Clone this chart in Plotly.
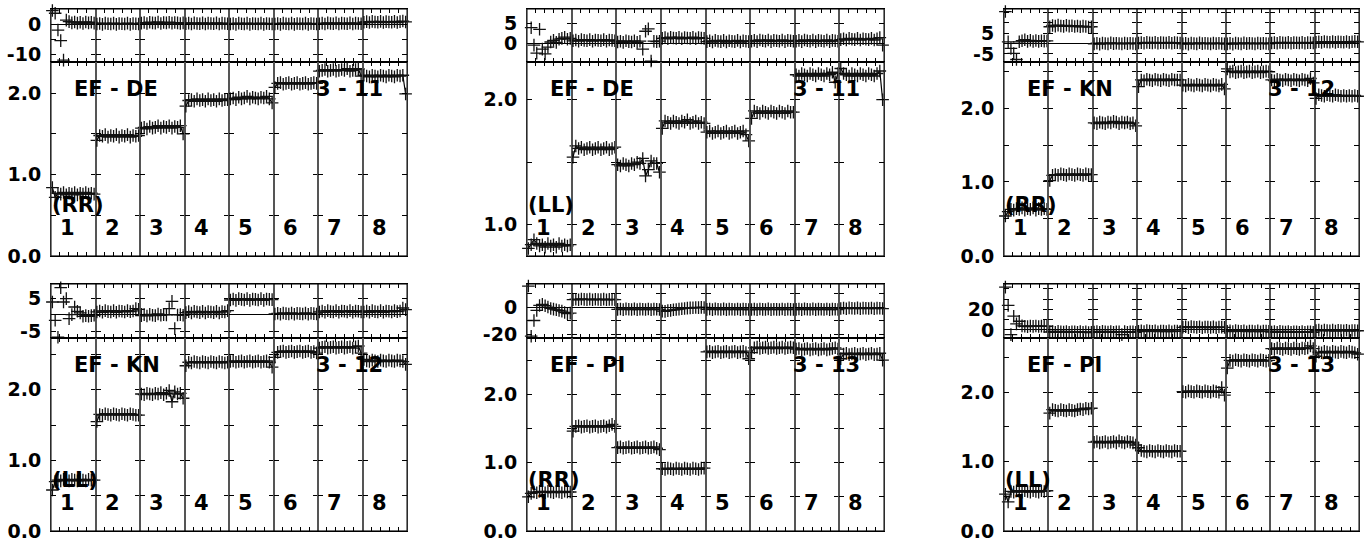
import plotly.graph_objects as go

W, H = 1367, 545          # reference picture size (pixel geometry below is in these units)
FIG_H = 558               # page height used when rendering (the capture is rescaled to 545)

baselines = ["EF - DE", "EF - DE", "EF - KN", "EF - KN", "EF - PI", "EF - PI"]
pols = ["(RR)", "(LL)", "(RR)", "(LL)", "(RR)", "(LL)"]
triangles = ["3 - 11", "3 - 11", "3 - 12", "3 - 12", "3 - 13", "3 - 13"]
if_labels = ["1", "2", "3", "4", "5", "6", "7", "8"]

# ---------------- amplitudes (per IF, per channel) ----------------
amp_1 = [
    [0.84, 0.72, 0.77, 0.76, 0.78, 0.75, 0.77, 0.76, 0.78, 0.75, 0.77, 0.76, 0.78, 0.76, 0.77, 0.76],
    [1.42, 1.48, 1.47, 1.49, 1.46, 1.48, 1.47, 1.49, 1.46, 1.48, 1.47, 1.49, 1.46, 1.48, 1.47, 1.48],
    [1.57, 1.58, 1.56, 1.59, 1.57, 1.58, 1.60, 1.57, 1.59, 1.58, 1.60, 1.57, 1.59, 1.58, 1.60, 1.50],
    [1.84, 1.91, 1.92, 1.90, 1.93, 1.91, 1.92, 1.90, 1.93, 1.91, 1.92, 1.90, 1.93, 1.91, 1.92, 1.92],
    [1.93, 1.94, 1.92, 1.95, 1.93, 1.94, 1.96, 1.93, 1.95, 1.94, 1.93, 1.95, 1.94, 1.96, 1.93, 1.88],
    [2.07, 2.12, 2.13, 2.11, 2.12, 2.13, 2.11, 2.12, 2.13, 2.11, 2.12, 2.13, 2.11, 2.12, 2.13, 2.12],
    [2.27, 2.28, 2.29, 2.27, 2.28, 2.29, 2.27, 2.28, 2.29, 2.28, 2.30, 2.27, 2.28, 2.29, 2.30, 2.21],
    [2.22, 2.21, 2.20, 2.22, 2.21, 2.20, 2.22, 2.21, 2.20, 2.22, 2.21, 2.20, 2.22, 2.21, 2.22, 1.99],
]
amp_2 = [
    [0.81, 0.84, 0.88, 0.85, 0.83, 0.84, 0.82, 0.85, 0.83, 0.84, 0.82, 0.85, 0.83, 0.84, 0.83, 0.84],
    [1.54, 1.63, 1.61, 1.62, 1.60, 1.61, 1.62, 1.60, 1.61, 1.62, 1.60, 1.61, 1.62, 1.60, 1.61, 1.62],
    [1.48, 1.47, 1.49, 1.48, 1.47, 1.49, 1.48, 1.50, 1.49, 1.53, 1.39, 1.44, 1.51, 1.49, 1.49, 1.42],
    [1.77, 1.83, 1.82, 1.81, 1.83, 1.82, 1.81, 1.83, 1.82, 1.84, 1.81, 1.82, 1.83, 1.81, 1.82, 1.81],
    [1.74, 1.75, 1.73, 1.74, 1.75, 1.73, 1.74, 1.75, 1.73, 1.74, 1.75, 1.73, 1.74, 1.75, 1.72, 1.67],
    [1.85, 1.91, 1.90, 1.89, 1.91, 1.90, 1.89, 1.91, 1.90, 1.89, 1.91, 1.90, 1.89, 1.91, 1.90, 1.90],
    [2.20, 2.19, 2.21, 2.20, 2.19, 2.21, 2.20, 2.19, 2.21, 2.20, 2.19, 2.21, 2.20, 2.22, 2.14, 2.21],
    [2.25, 2.21, 2.20, 2.19, 2.21, 2.20, 2.19, 2.21, 2.20, 2.19, 2.21, 2.20, 2.19, 2.21, 2.23, 2.00],
]
amp_3 = [
    [0.54, 0.60, 0.63, 0.62, 0.64, 0.63, 0.65, 0.62, 0.64, 0.63, 0.65, 0.62, 0.64, 0.63, 0.64, 0.63],
    [1.02, 1.09, 1.10, 1.09, 1.11, 1.10, 1.09, 1.11, 1.10, 1.09, 1.11, 1.10, 1.09, 1.11, 1.10, 1.10],
    [1.80, 1.79, 1.81, 1.80, 1.79, 1.81, 1.80, 1.82, 1.81, 1.79, 1.81, 1.80, 1.81, 1.79, 1.80, 1.76],
    [2.29, 2.38, 2.37, 2.39, 2.38, 2.37, 2.39, 2.38, 2.37, 2.39, 2.38, 2.37, 2.39, 2.38, 2.38, 2.38],
    [2.31, 2.30, 2.32, 2.31, 2.30, 2.32, 2.31, 2.30, 2.32, 2.31, 2.30, 2.32, 2.31, 2.30, 2.32, 2.26],
    [2.53, 2.49, 2.50, 2.48, 2.49, 2.50, 2.48, 2.49, 2.50, 2.48, 2.49, 2.50, 2.48, 2.49, 2.50, 2.49],
    [2.38, 2.37, 2.39, 2.38, 2.37, 2.39, 2.38, 2.37, 2.39, 2.38, 2.37, 2.39, 2.38, 2.37, 2.40, 2.34],
    [2.13, 2.18, 2.17, 2.16, 2.18, 2.17, 2.16, 2.18, 2.17, 2.16, 2.17, 2.16, 2.17, 2.16, 2.17, 2.16],
]
amp_4 = [
    [0.58, 0.70, 0.72, 0.71, 0.73, 0.72, 0.71, 0.73, 0.72, 0.71, 0.73, 0.72, 0.71, 0.73, 0.72, 0.72],
    [1.55, 1.65, 1.64, 1.66, 1.65, 1.64, 1.66, 1.65, 1.64, 1.66, 1.65, 1.64, 1.66, 1.65, 1.64, 1.64],
    [1.94, 1.93, 1.95, 1.94, 1.93, 1.95, 1.94, 1.96, 1.93, 1.95, 1.99, 1.83, 1.97, 1.94, 1.95, 1.88],
    [2.34, 2.39, 2.38, 2.40, 2.39, 2.38, 2.40, 2.39, 2.38, 2.40, 2.39, 2.38, 2.40, 2.39, 2.38, 2.39],
    [2.40, 2.41, 2.39, 2.40, 2.41, 2.39, 2.40, 2.41, 2.39, 2.40, 2.41, 2.39, 2.40, 2.41, 2.39, 2.32],
    [2.46, 2.53, 2.54, 2.55, 2.53, 2.54, 2.55, 2.53, 2.54, 2.55, 2.53, 2.54, 2.55, 2.53, 2.54, 2.52],
    [2.59, 2.60, 2.61, 2.59, 2.60, 2.61, 2.59, 2.60, 2.61, 2.59, 2.60, 2.61, 2.59, 2.61, 2.62, 2.52],
    [2.43, 2.41, 2.40, 2.42, 2.41, 2.40, 2.42, 2.41, 2.40, 2.42, 2.41, 2.40, 2.42, 2.41, 2.40, 2.36],
]
amp_5 = [
    [0.50, 0.55, 0.57, 0.56, 0.58, 0.57, 0.56, 0.58, 0.57, 0.56, 0.58, 0.57, 0.56, 0.58, 0.57, 0.57],
    [1.46, 1.53, 1.54, 1.52, 1.53, 1.54, 1.52, 1.53, 1.54, 1.52, 1.53, 1.54, 1.52, 1.54, 1.56, 1.53],
    [1.22, 1.23, 1.21, 1.22, 1.23, 1.21, 1.22, 1.23, 1.21, 1.22, 1.23, 1.21, 1.22, 1.23, 1.21, 1.19],
    [0.91, 0.90, 0.92, 0.91, 0.90, 0.92, 0.91, 0.90, 0.92, 0.91, 0.90, 0.92, 0.91, 0.90, 0.92, 0.92],
    [2.62, 2.63, 2.61, 2.62, 2.63, 2.61, 2.62, 2.63, 2.61, 2.62, 2.63, 2.61, 2.62, 2.63, 2.61, 2.52],
    [2.61, 2.68, 2.69, 2.67, 2.68, 2.69, 2.67, 2.68, 2.69, 2.67, 2.68, 2.69, 2.67, 2.68, 2.69, 2.68],
    [2.66, 2.67, 2.65, 2.66, 2.67, 2.65, 2.66, 2.67, 2.65, 2.66, 2.67, 2.65, 2.66, 2.67, 2.68, 2.66],
    [2.52, 2.59, 2.60, 2.58, 2.59, 2.60, 2.58, 2.59, 2.60, 2.58, 2.59, 2.60, 2.58, 2.59, 2.60, 2.50],
]
amp_6 = [
    [0.53, 0.42, 0.57, 0.56, 0.58, 0.57, 0.56, 0.58, 0.57, 0.56, 0.58, 0.57, 0.56, 0.58, 0.57, 0.58],
    [1.70, 1.75, 1.74, 1.73, 1.75, 1.74, 1.73, 1.75, 1.74, 1.73, 1.75, 1.76, 1.75, 1.77, 1.76, 1.77],
    [1.28, 1.29, 1.27, 1.28, 1.29, 1.27, 1.28, 1.29, 1.27, 1.30, 1.28, 1.27, 1.29, 1.28, 1.27, 1.24],
    [1.20, 1.16, 1.15, 1.14, 1.16, 1.15, 1.14, 1.16, 1.15, 1.14, 1.16, 1.15, 1.14, 1.16, 1.15, 1.15],
    [2.01, 2.00, 2.02, 2.01, 2.00, 2.02, 2.01, 2.00, 2.02, 2.01, 2.00, 2.02, 2.01, 2.00, 2.07, 1.96],
    [2.35, 2.46, 2.45, 2.47, 2.46, 2.45, 2.47, 2.46, 2.45, 2.47, 2.46, 2.45, 2.47, 2.46, 2.45, 2.46],
    [2.63, 2.62, 2.64, 2.63, 2.62, 2.64, 2.63, 2.62, 2.64, 2.63, 2.62, 2.64, 2.63, 2.64, 2.67, 2.63],
    [2.52, 2.58, 2.57, 2.59, 2.58, 2.57, 2.59, 2.58, 2.57, 2.59, 2.58, 2.57, 2.59, 2.58, 2.57, 2.55],
]

# ---------------- phases (degrees, per IF, per channel) ----------------
phs_1 = [
    [4.7, 3.8, -1.8, -5.3, -11.8, 1.5, 1.0, 0.6, 0.9, 0.5, 0.8, 0.4, 0.9, 0.6, 0.8, 0.5],
    [0.2, 0.4, 0.1, 0.5, 0.3, 0.2, 0.5, 0.1, 0.4, 0.3, 0.2, 0.5, 0.1, 0.4, 0.3, 0.2],
    [0.5, 0.7, 0.4, 0.8, 0.6, 0.5, 0.9, 0.4, 0.7, 0.6, 0.8, 0.5, 0.7, 0.6, 0.4, 0.6],
    [0.3, 0.5, 0.2, 0.6, 0.4, 0.3, 0.6, 0.2, 0.5, 0.4, 0.3, 0.6, 0.2, 0.5, 0.4, 0.3],
    [0.2, 0.4, 0.1, 0.5, 0.3, 0.2, 0.5, 0.1, 0.4, 0.3, 0.2, 0.5, 0.1, 0.4, 0.3, 0.2],
    [0.2, 0.4, 0.1, 0.5, 0.3, 0.2, 0.5, 0.1, 0.4, 0.3, 0.2, 0.5, 0.1, 0.4, 0.3, 0.2],
    [0.3, 0.5, 0.2, 0.6, 0.4, 0.3, 0.6, 0.2, 0.5, 0.4, 0.3, 0.6, 0.2, 0.5, 0.4, 0.3],
    [0.8, 1.0, 0.7, 1.1, 0.9, 0.8, 1.1, 0.7, 1.0, 0.9, 0.8, 1.1, 0.7, 1.0, 1.2, 0.9],
]
phs_2 = [
    [8.7, 3.9, -0.5, -2.5, 3.5, -1.5, -2.7, -1.0, 0.3, 0.7, 0.2, 1.0, 1.2, 1.5, 1.0, 1.2],
    [0.6, 0.8, 0.5, 0.9, 0.7, 0.6, 0.9, 0.5, 0.8, 0.7, 0.6, 0.9, 0.5, 0.8, 0.7, 0.6],
    [0.3, 0.5, 0.2, 0.6, 0.4, 0.3, 0.6, 0.2, 0.5, -1.5, 3.0, 3.6, -4.5, 0.5, 0.4, 0.5],
    [1.2, 1.4, 1.1, 1.5, 1.3, 1.2, 1.5, 1.1, 1.4, 1.3, 1.2, 1.5, 1.1, 1.4, 1.3, 1.2],
    [0.4, 0.6, 0.3, 0.7, 0.5, 0.4, 0.7, 0.3, 0.6, 0.5, 0.4, 0.7, 0.3, 0.6, 0.5, 0.4],
    [0.5, 0.7, 0.4, 0.8, 0.6, 0.5, 0.8, 0.4, 0.7, 0.6, 0.5, 0.8, 0.4, 0.7, 0.6, 0.5],
    [0.5, 0.7, 0.4, 0.8, 0.6, 0.5, 0.8, 0.4, 0.7, 0.6, 0.5, 0.8, 0.4, 0.7, 0.6, 0.5],
    [0.9, 1.1, 0.8, 1.2, 1.0, 0.9, 1.2, 0.8, 1.1, 1.0, 0.9, 1.2, 0.8, 1.1, 1.4, -0.5],
]
phs_3 = [
    [15.3, 0.8, -2.4, -4.8, -7.7, 0.8, 1.3, 1.8, 1.0, 1.5, 0.9, 1.4, 1.0, 1.3, 1.1, 1.2],
    [8.0, 8.6, 8.3, 8.8, 8.4, 8.2, 8.7, 8.3, 8.5, 8.1, 8.4, 8.0, 8.3, 8.1, 7.9, 8.0],
    [-0.2, 0.1, -0.3, 0.2, 0.0, -0.2, 0.3, -0.1, 0.1, 0.0, -0.2, 0.2, -0.1, 0.1, 0.0, -0.2],
    [0.2, 0.4, 0.1, 0.5, 0.3, 0.2, 0.5, 0.1, 0.4, 0.3, 0.2, 0.5, 0.1, 0.4, 0.3, 0.2],
    [-0.2, 0.1, -0.3, 0.2, 0.0, -0.2, 0.3, -0.1, 0.1, 0.0, -0.2, 0.2, -0.1, 0.1, 0.0, -0.2],
    [-0.2, 0.1, -0.3, 0.2, 0.0, -0.2, 0.3, -0.1, 0.1, 0.0, -0.2, 0.2, -0.1, 0.1, 0.0, -0.2],
    [0.2, 0.4, 0.1, 0.5, 0.3, 0.2, 0.5, 0.1, 0.4, 0.3, 0.2, 0.5, 0.1, 0.4, 0.3, 0.2],
    [0.6, 0.8, 0.5, 0.9, 0.7, 0.6, 0.9, 0.5, 0.8, 0.7, 0.6, 0.9, 0.5, 0.8, 1.0, 0.8],
]
phs_4 = [
    [3.8, -1.7, -6.8, 8.1, 3.8, 4.8, -1.2, 0.0, 2.3, 1.0, 0.5, -0.5, -0.3, -0.5, -0.3, -0.2],
    [0.8, 1.1, 0.7, 1.2, 0.9, 0.8, 1.2, 0.7, 1.1, 1.0, 0.8, 1.2, 0.9, 1.1, 1.8, 1.6],
    [-0.3, 0.0, -0.4, 0.1, -0.2, -0.3, 0.2, -0.2, 0.0, -0.1, 1.8, 4.0, -4.2, -0.1, 0.0, -0.2],
    [0.6, 0.9, 0.5, 1.0, 0.8, 0.6, 1.0, 0.5, 0.9, 0.8, 0.6, 1.0, 0.5, 0.9, 0.8, 1.2],
    [4.4, 4.7, 4.3, 4.8, 4.6, 4.4, 4.8, 4.3, 4.7, 4.6, 4.4, 4.8, 4.3, 4.7, 4.6, 4.5],
    [0.2, 0.4, 0.1, 0.5, 0.3, 0.2, 0.5, 0.1, 0.4, 0.3, 0.2, 0.5, 0.1, 0.4, 0.3, 0.2],
    [0.8, 1.1, 0.7, 1.2, 0.9, 0.8, 1.2, 0.7, 1.1, 1.0, 0.8, 1.2, 0.7, 1.1, 1.0, 0.8],
    [0.8, 1.1, 0.7, 1.2, 0.9, 0.8, 1.2, 0.7, 1.1, 1.0, 0.8, 1.2, 0.9, 1.1, 2.0, 1.5],
]
phs_5 = [
    [15.5, -21.5, -9.9, -2.5, 1.2, 2.0, 1.0, 0.0, -1.0, -1.5, -2.0, -2.5, -3.0, -4.0, -4.9, -4.5],
    [5.5, 5.8, 5.4, 6.0, 5.7, 5.5, 5.9, 5.4, 5.8, 5.6, 5.5, 5.9, 5.4, 5.7, 5.6, 5.5],
    [-1.7, -1.4, -1.9, -1.3, -1.6, -1.8, -1.3, -1.9, -1.5, -1.6, -1.8, -1.4, -1.9, -1.5, -1.6, -1.8],
    [-3.0, -3.2, -2.6, -2.4, -2.0, -1.8, -1.5, -1.2, -1.0, -0.8, -0.6, -0.5, -0.3, -0.4, -0.2, -0.3],
    [-1.7, -1.4, -1.9, -1.3, -1.6, -1.8, -1.3, -1.9, -1.5, -1.6, -1.8, -1.4, -1.9, -1.5, -1.6, -1.8],
    [-1.8, -1.5, -1.9, -1.4, -1.7, -1.8, -1.3, -1.9, -1.6, -1.7, -1.8, -1.4, -1.9, -1.5, -1.7, -1.8],
    [-1.7, -1.4, -1.9, -1.3, -1.6, -1.8, -1.3, -1.9, -1.5, -1.6, -1.8, -1.4, -1.9, -1.5, -1.6, -1.8],
    [-1.0, -0.7, -1.2, -0.6, -0.9, -1.1, -0.6, -1.2, -0.8, -0.9, -1.1, -0.7, -1.2, -0.8, -0.9, -1.1],
]
phs_6 = [
    [41.8, 23.9, -4.6, 13.4, 5.9, 8.5, 4.0, 3.6, 3.2, 3.8, 3.5, 3.9, 3.4, 3.7, 3.5, 3.6],
    [-2.0, -1.5, -2.3, -1.4, -1.8, -2.1, -1.5, -2.4, -1.7, -1.9, -2.2, -1.6, -2.4, -1.8, -2.6, -2.3],
    [-2.0, -1.5, -2.3, -1.4, -1.8, -2.1, -1.5, -2.4, -1.7, -1.9, -4.6, -1.6, -2.4, -1.8, -1.9, -2.3],
    [-1.3, -0.8, -1.6, -0.7, -1.1, -1.4, -0.8, -1.7, -1.0, -1.2, -1.5, -0.9, -1.7, -1.1, -1.2, -1.4],
    [2.6, 3.1, 2.3, 3.2, 2.8, 2.5, 3.1, 2.2, 2.9, 2.7, 2.4, 3.0, 2.2, 2.8, 2.7, 2.5],
    [-1.3, -0.8, -1.6, -0.7, -1.1, -1.4, -0.8, -1.7, -1.0, -1.2, -1.5, -0.9, -1.7, -1.1, -1.2, -1.4],
    [-2.0, -1.5, -2.3, -1.4, -1.8, -2.1, -1.5, -2.4, -1.7, -1.9, -2.2, -1.6, -2.4, -1.8, -1.9, -2.3],
    [-0.7, -0.2, -1.0, -0.1, -0.5, -0.8, -0.2, -1.1, -0.4, -0.6, -0.9, -0.3, -1.1, -0.5, -0.6, -0.8],
]

amps = [amp_1, amp_2, amp_3, amp_4, amp_5, amp_6]
phases = [phs_1, phs_2, phs_3, phs_4, phs_5, phs_6]

amp_ranges = [[0, 2.38], [0.75, 2.30], [0, 2.62], [0, 2.73], [0, 2.82], [0, 2.78]]
phs_ranges = [[-12.5, 5.2], [-4.8, 8.6], [-9.0, 16.5], [-7.1, 9.2], [-23.0, 17.0], [-8.1, 44.8]]

amp_tickvals = [0, 0.5, 1.0, 1.5, 2.0, 2.5]
amp_ticktext = ["0.0", "", "1.0", "", "2.0", ""]
phs_tickvals = [[-10, -5, 0, 5], [-5, 0, 5], [-5, 0, 5, 10, 15], [-5, 0, 5],
                [-20, -10, 0, 10], [0, 10, 20, 30, 40]]
phs_ticktext = [["-10", "", "0", ""], ["", "0", "5"], ["-5", "", "5", "", ""], ["-5", "", "5"],
                ["-20", "", "0", ""], ["0", "", "20", "", ""]]

# ---------------- layout geometry (reference pixels) ----------------
col_x = [(51, 407), (527, 884), (1004, 1359)]
row_y = [(9, 62, 255), (283, 337, 529)]   # top, divider, bottom
NSEG = 8

FONT = "DejaVu Sans, Verdana, sans-serif"

fig = go.Figure()
layout = dict(
    width=W, height=FIG_H, autosize=False,
    margin=dict(l=0, r=0, t=0, b=0),
    paper_bgcolor="white", plot_bgcolor="white",
    showlegend=False,
    font=dict(family=FONT, color="black"),
)
annotations = []
shapes = []

def px_x(v):
    return v / W

def px_y(v):
    return 1 - v / H

for p in range(6):
    r, c = divmod(p, 3)
    x0, x1 = col_x[c]
    ytop, ymid, ybot = row_y[r]
    segw = (x1 - x0) / NSEG
    for s in range(2):   # 0 = phase (top), 1 = amplitude (bottom)
        if s == 0:
            yd = [px_y(ymid), px_y(ytop)]
            data = phases[p]
            yr = phs_ranges[p]
            tv, tt = phs_tickvals[p], phs_ticktext[p]
            mode = "markers"
        else:
            yd = [px_y(ybot), px_y(ymid)]
            data = amps[p]
            yr = amp_ranges[p]
            tv, tt = amp_tickvals, amp_ticktext
            mode = "lines+markers"
        for k in range(NSEG):
            idx = p * 16 + s * 8 + k + 1
            xn = "x" if idx == 1 else f"x{idx}"
            yn = "y" if idx == 1 else f"y{idx}"
            vals = data[k]
            n = len(vals)
            chans = list(range(n))
            fig.add_trace(go.Scatter(
                x=chans, y=vals, xaxis=xn, yaxis=yn,
                mode=mode,
                line=dict(color="black", width=1.2),
                marker=dict(symbol="cross-thin", size=9,
                            line=dict(color="#111111", width=1.3)),
                cliponaxis=False, hoverinfo="skip",
            ))
            xr = [-0.5, n - 0.5]
            xt = [xr[0] + (xr[1] - xr[0]) * j / 5 for j in range(6)]
            xkey = "xaxis" if idx == 1 else f"xaxis{idx}"
            ykey = "yaxis" if idx == 1 else f"yaxis{idx}"
            layout[xkey] = dict(
                domain=[px_x(x0 + k * segw), px_x(x0 + (k + 1) * segw)],
                range=xr, anchor=yn,
                tickmode="array", tickvals=xt, showticklabels=False,
                ticks="inside", ticklen=4, tickwidth=1, tickcolor="black",
                showline=True, linecolor="black", linewidth=1, mirror="ticks",
                showgrid=False, zeroline=False, fixedrange=True,
            )
            layout[ykey] = dict(
                domain=yd, range=yr, anchor=xn,
                tickmode="array", tickvals=tv, ticktext=tt,
                showticklabels=(k == 0),
                tickfont=dict(family=FONT, size=19, color="black", weight="bold"),
                ticklabelstandoff=5,
                ticks="inside", ticklen=5, tickwidth=1, tickcolor="black",
                showline=True, linecolor="#555555", linewidth=1, mirror="ticks",
                showgrid=False,
                zeroline=(s == 0), zerolinecolor="black", zerolinewidth=1,
                fixedrange=True,
            )
    # outer frame of the panel
    shapes.append(dict(type="rect", xref="paper", yref="paper",
                       x0=px_x(x0), x1=px_x(x1), y0=px_y(ybot), y1=px_y(ytop),
                       line=dict(color="black", width=1), layer="above"))
    afont = dict(family=FONT, size=21, color="black", weight="bold")
    annotations.append(dict(text=baselines[p], xref="paper", yref="paper",
                            x=px_x(x0 + 21), y=px_y(ymid + 27),
                            xanchor="left", yanchor="middle", showarrow=False, font=afont))
    annotations.append(dict(text=triangles[p], xref="paper", yref="paper",
                            x=px_x(x1 - 22), y=px_y(ymid + 27),
                            xanchor="right", yanchor="middle", showarrow=False, font=afont))
    annotations.append(dict(text=pols[p], xref="paper", yref="paper",
                            x=px_x(x0 - 1), y=px_y(ybot - 51),
                            xanchor="left", yanchor="middle", showarrow=False, font=afont))
    for k in range(NSEG):
        annotations.append(dict(text=if_labels[k], xref="paper", yref="paper",
                                x=px_x(x0 + k * segw + 7), y=px_y(ybot - 28),
                                xanchor="left", yanchor="middle", showarrow=False, font=afont))

layout["annotations"] = annotations
layout["shapes"] = shapes
fig.update_layout(**layout)
fig.write_html(
    "out.html",
    config={"displayModeBar": False, "staticPlot": True},
    post_script=(
        "document.documentElement.style.margin='0px';"
        "document.documentElement.style.padding='0px';"
        "document.documentElement.style.overflow='hidden';"
        "document.body.style.margin='0px';"
        "document.body.style.padding='0px';"
        "document.body.style.overflow='hidden';"
    ),
)
